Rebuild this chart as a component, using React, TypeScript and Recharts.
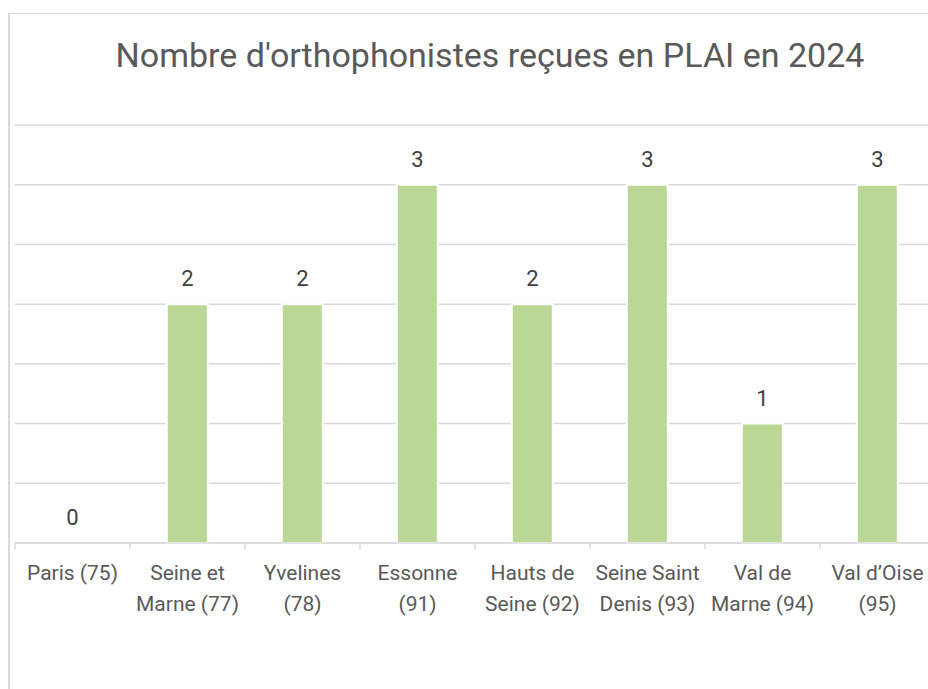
import React from 'react';
import { ComposedChart, Bar, Line, XAxis, YAxis, CartesianGrid, LabelList } from 'recharts';

// départements (libellés sur deux lignes comme dans Excel)
const departements = [
  'Paris (75)',
  'Seine et\nMarne (77)',
  'Yvelines\n(78)',
  'Essonne\n(91)',
  'Hauts de\nSeine (92)',
  'Seine Saint\nDenis (93)',
  'Val de\nMarne (94)',
  'Val d\u2019Oise\n(95)',
];
const orthophonistes = [0, 2, 2, 3, 2, 3, 1, 3];
const yTicks = [0, 0.5, 1, 1.5, 2, 2.5, 3, 3.5];

const data = departements.map((d, i) => ({ dep: d, n: orthophonistes[i] }));

const BAND = 115;
const GRID = '#D9D9D9';
const FONT = 'Roboto, "Open Sans", sans-serif';

function DepTick(props: any) {
  const { x, y, payload, index } = props;
  const lines = String(payload.value).split('\n');
  const half = BAND / 2;
  return (
    <g>
      <line x1={x - half} x2={x - half} y1={y} y2={y + 6} stroke={GRID} strokeWidth={1.5} />
      {index === departements.length - 1 && (
        <line x1={x + half} x2={x + half} y1={y} y2={y + 6} stroke={GRID} strokeWidth={1.5} />
      )}
      {lines.map((l, i) => (
        <text key={i} x={x} y={y + 37 + i * 31} textAnchor="middle" fill="#595959" fontSize={21} fontFamily={FONT}>
          {l}
        </text>
      ))}
    </g>
  );
}

export default function App() {
  return (
    <div style={{ position: 'fixed', left: 0, top: 0, width: 928, height: 689, overflow: 'hidden', background: '#fff' }}>
      {/* cadre du graphique */}
      <div
        style={{
          position: 'absolute',
          left: 8,
          top: 13,
          width: 1000,
          height: 1000,
          borderTop: `1.5px solid ${GRID}`,
          borderLeft: `2px solid ${GRID}`,
          boxSizing: 'border-box',
        }}
      />
      <div
        style={{
          position: 'absolute',
          left: 90,
          top: 38,
          width: 800,
          textAlign: 'center',
          fontFamily: FONT,
          fontSize: 34,
          lineHeight: 1,
          color: '#595959',
          whiteSpace: 'nowrap',
        }}
      >
        Nombre d'orthophonistes reçues en PLAI en 2024
      </div>
      <div style={{ position: 'absolute', left: 0, top: 0 }}>
        <ComposedChart
          width={960}
          height={689}
          data={data}
          margin={{ top: 125, right: 25, bottom: 66, left: 15 }}
          barCategoryGap="32%"
        >
          <CartesianGrid vertical={false} stroke={GRID} strokeWidth={1.5} />
          <YAxis hide domain={[0, 3.5]} ticks={yTicks} />
          <XAxis
            dataKey="dep"
            height={80}
            interval={0}
            tickSize={0}
            tickMargin={0}
            tickLine={false}
            axisLine={{ stroke: GRID, strokeWidth: 1.5 }}
            tick={<DepTick />}
          />
          <Bar dataKey="n" fill="#BAD795" stroke="#fff" strokeWidth={2} isAnimationActive={false} />
          {/* série invisible pour les étiquettes (la barre à 0 n'en affiche pas) */}
          <Line dataKey="n" stroke="none" dot={false} activeDot={false} isAnimationActive={false} legendType="none">
            <LabelList dataKey="n" position="top" offset={18} fill="#404040" fontSize={22} fontFamily={FONT} />
          </Line>
        </ComposedChart>
      </div>
    </div>
  );
}
